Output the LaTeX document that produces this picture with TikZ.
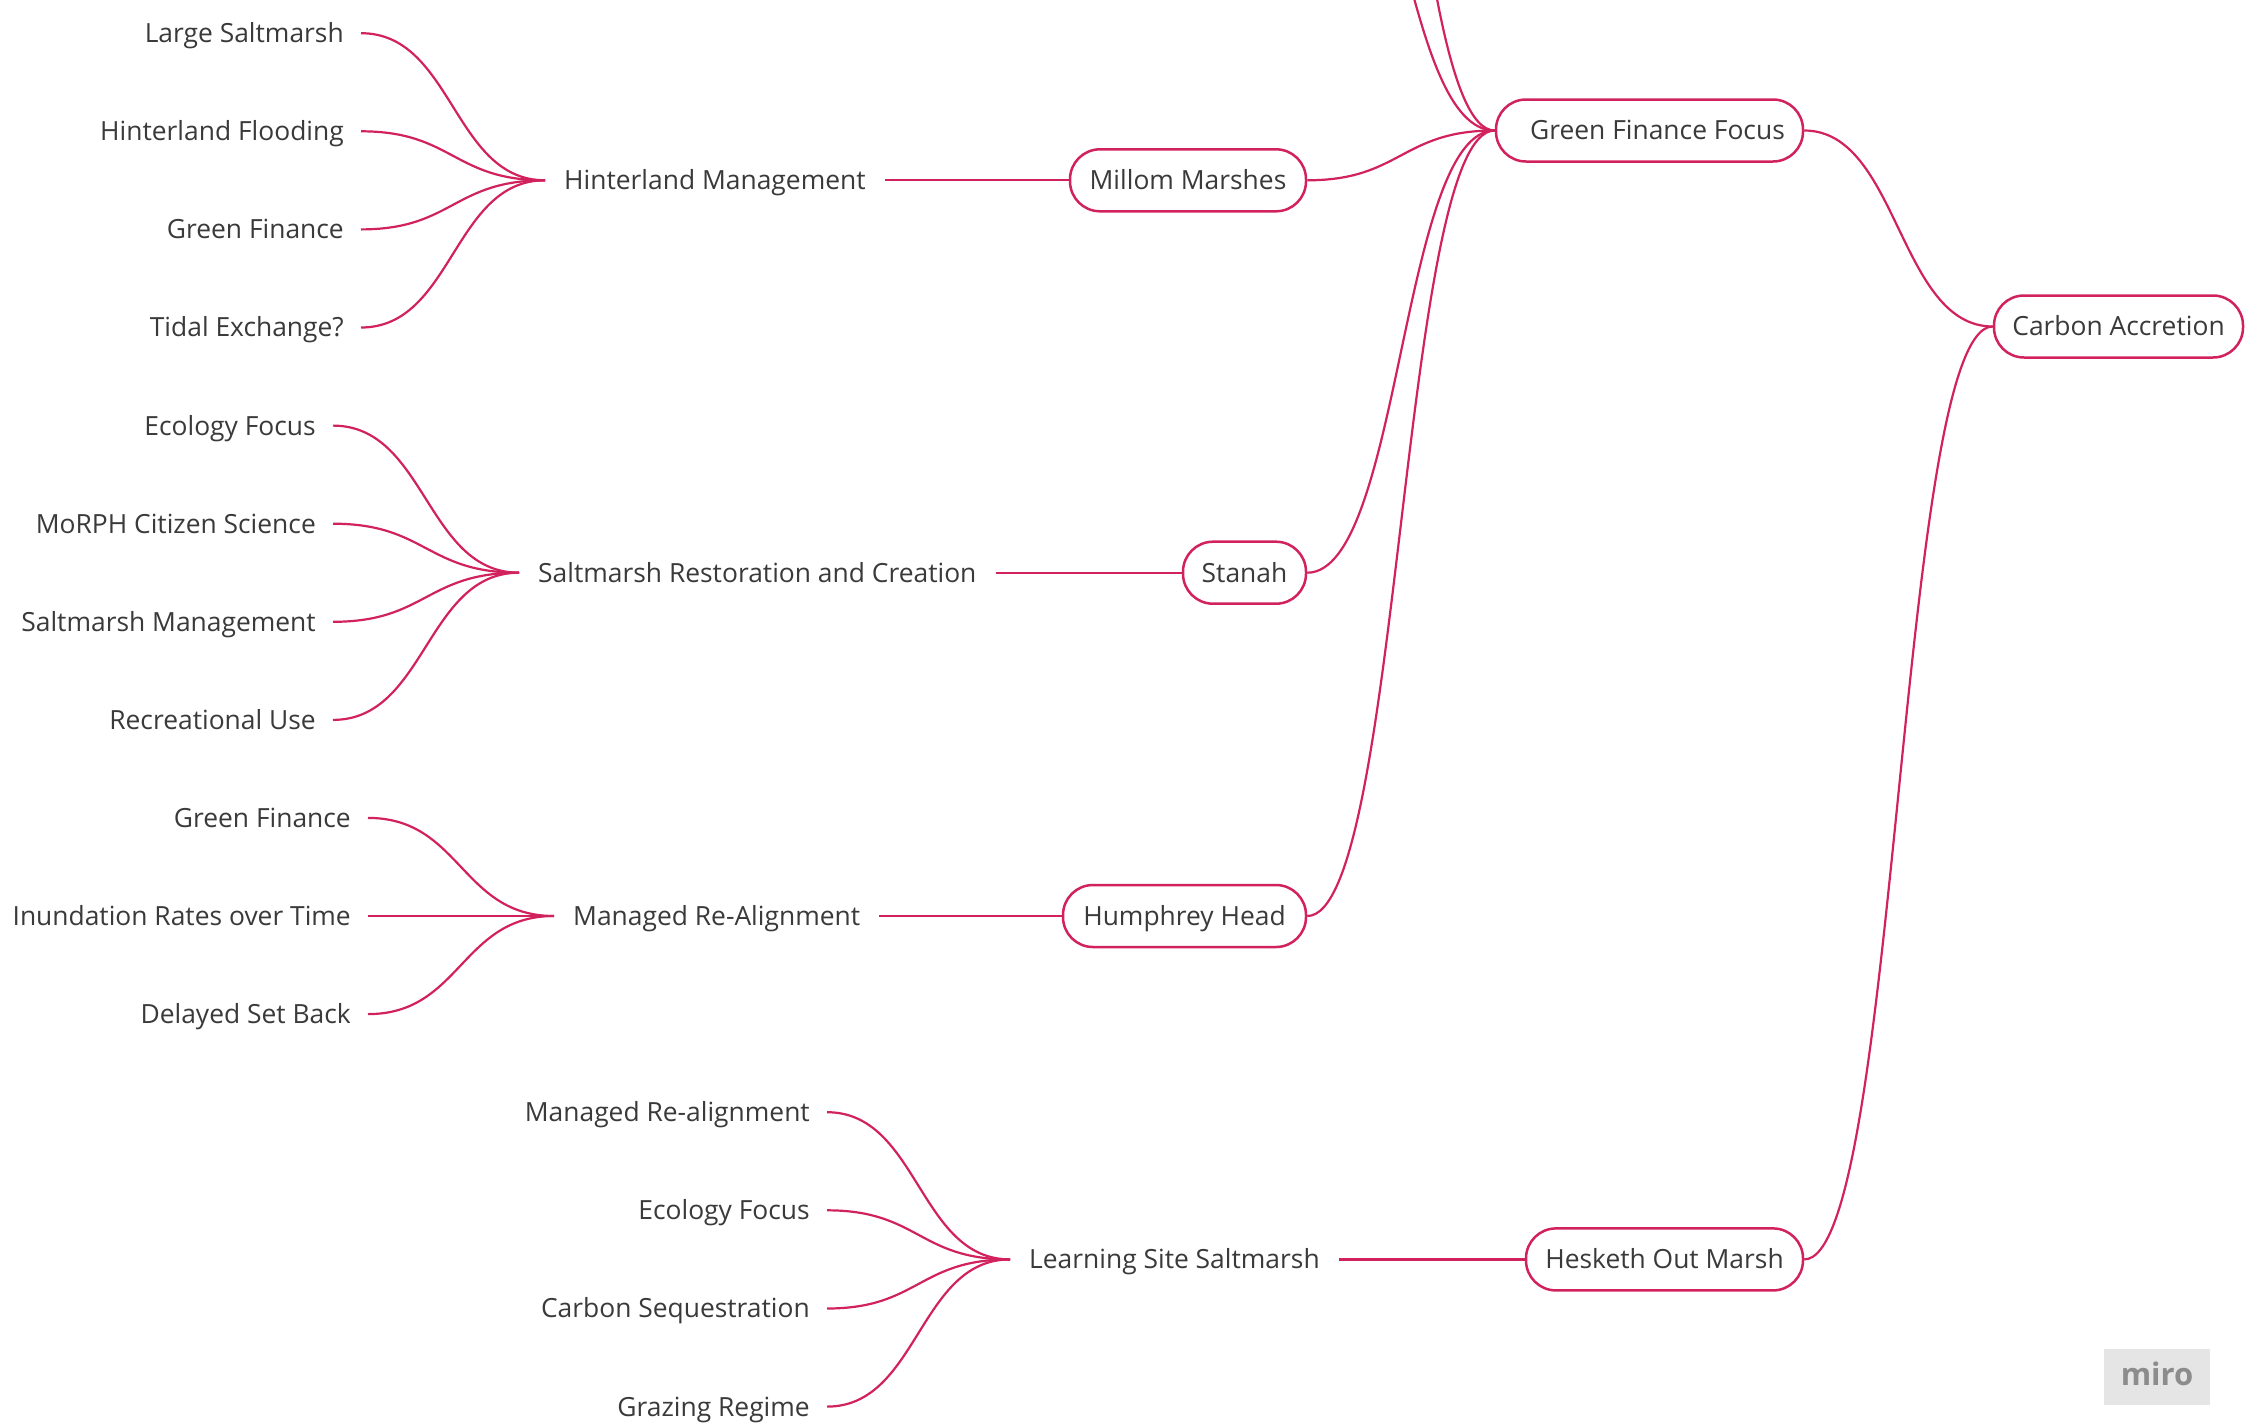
\documentclass[tikz,border=0pt]{standalone}
\usepackage{fontspec}
\setmainfont{Open Sans}
\usetikzlibrary{calc}
\definecolor{mmpink}{RGB}{210,34,94}
\definecolor{mmtext}{RGB}{58,58,58}
\definecolor{logobg}{RGB}{229,229,229}
\definecolor{logotext}{RGB}{140,140,140}
\begin{document}
\begin{tikzpicture}[x=1pt,y=-1pt,
  every node/.style={font=\fontsize{26.4pt}{30pt}\selectfont, text=mmtext, text height=18.85pt, text depth=0pt},
  leaf/.style={anchor=east, inner xsep=17pt, inner ysep=4pt},
  mid/.style={anchor=west, inner xsep=19pt, inner ysep=4pt},
  box/.style={draw=mmpink, fill=white, line width=2.5pt, rounded corners=30pt, minimum height=62pt, inner xsep=0pt, inner ysep=0pt},
  link/.style={draw=mmpink, line width=2.2pt},
  curve/.style={to path={let \p1=(\tikztostart), \p2=(\tikztotarget) in .. controls ({0.5*\x1+0.5*\x2},\y1) and ({0.5*\x1+0.5*\x2},\y2) .. (\tikztotarget)}},
]
\useasboundingbox (0,0) rectangle (2262,1425);
\fill[white] (0,0) rectangle (2262,1425);
\clip (0,0) rectangle (2262,1425);

% hidden parents above the frame
\coordinate (top1) at (1306,-238);
\coordinate (top2) at (1306,-656);

% level boxes
\node[box, minimum width=249pt] (carbon) at (2118.5,326.5) {Carbon Accretion};
\node[box, minimum width=307pt] (gff) at (1649.5,130.5) {\hspace*{16pt}Green Finance Focus};
\node[box, minimum width=277pt] (hesketh) at (1664.5,1259.4) {Hesketh Out Marsh};
\node[box, minimum width=236pt] (millom) at (1188,180.3) {Millom Marshes};
\node[box, minimum width=123pt] (stanah) at (1244.5,572.7) {Stanah};
\node[box, minimum width=243pt] (humphrey) at (1184.5,916) {Humphrey Head};

% mid topics
\node[mid] (hm) at (545,180.3) {Hinterland Management};
\node[mid] (src) at (519,572.7) {Saltmarsh Restoration and Creation};
\node[mid] (mra) at (554,916) {Managed Re-Alignment};
\node[mid] (lss) at (1010,1259.4) {Learning Site Saltmarsh};

% leaves group 1
\node[leaf] (a1) at (361,33.2) {Large Saltmarsh};
\node[leaf] (a2) at (361,131.3) {Hinterland Flooding};
\node[leaf] (a3) at (361,229.4) {Green Finance};
\node[leaf] (a4) at (361,327.5) {Tidal Exchange?};
% leaves group 2
\node[leaf] (b1) at (333,425.6) {Ecology Focus};
\node[leaf] (b2) at (333,523.7) {MoRPH Citizen Science};
\node[leaf] (b3) at (333,621.8) {Saltmarsh Management};
\node[leaf] (b4) at (333,719.9) {Recreational Use};
% leaves group 3
\node[leaf] (c1) at (368,817.9) {Green Finance};
\node[leaf] (c2) at (368,916) {Inundation Rates over Time};
\node[leaf] (c3) at (368,1014.1) {Delayed Set Back};
% leaves group 4
\node[leaf] (d1) at (827,1112.2) {Managed Re-alignment};
\node[leaf] (d2) at (827,1210.3) {Ecology Focus};
\node[leaf] (d3) at (827,1308.5) {Carbon Sequestration};
\node[leaf] (d4) at (827,1406.6) {Grazing Regime};

% connectors
\foreach \n in {a1,a2,a3,a4} \draw[link] (\n.east) to[curve] (hm.west);
\foreach \n in {b1,b2,b3,b4} \draw[link] (\n.east) to[curve] (src.west);
\foreach \n in {c1,c2,c3} \draw[link] (\n.east) to[curve] (mra.west);
\foreach \n in {d1,d2,d3,d4} \draw[link] (\n.east) to[curve] (lss.west);
\draw[link] (hm.east) -- (millom.west);
\draw[link] (src.east) -- (stanah.west);
\draw[link] (mra.east) -- (humphrey.west);
\draw[link] (lss.east) -- (hesketh.west);
\draw[link] (top1) to[curve] (gff.west);
\draw[link] (top2) to[curve] (gff.west);
\draw[link] (millom.east) to[curve] (gff.west);
\draw[link] (stanah.east) to[curve] (gff.west);
\draw[link] (humphrey.east) to[curve] (gff.west);
\draw[link] (gff.east) to[curve] (carbon.west);
\draw[link] (hesketh.east) to[curve] (carbon.west);

% logo
\node[fill=logobg, minimum width=106pt, minimum height=56pt, inner sep=0pt, text=logotext, font=\fontsize{31pt}{34pt}\selectfont\bfseries, text height=16pt] (logo) at (2157,1377) {miro};
\end{tikzpicture}
\end{document}
